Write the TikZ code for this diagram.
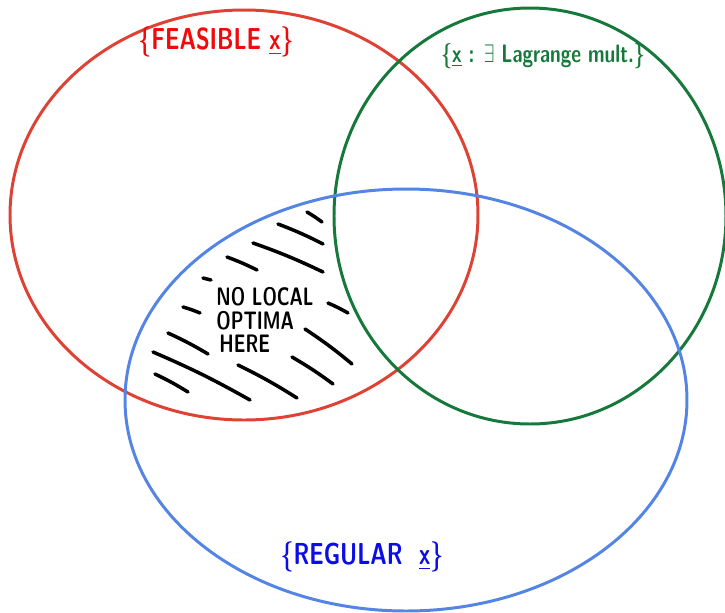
\documentclass[tikz,border=0pt]{standalone}
\usepackage{amsmath, amssymb}
\usepackage{tikz}
\usetikzlibrary{calc}

\definecolor{feasred}{RGB}{222,66,52}
\definecolor{feastext}{RGB}{240,10,10}
\definecolor{lagrgreen}{RGB}{22,120,58}
\definecolor{regblue}{RGB}{84,132,228}
\definecolor{regtext}{RGB}{12,12,230}

\tikzset{
    setline/.style={line width=1.7pt},
    hatchline/.style={line width=2pt, line cap=round, black},
    setlabel/.style={font=\sffamily\bfseries\LARGE, xscale=0.74, transform shape, inner sep=0pt},
}

\begin{document}
\begin{tikzpicture}[x=0.02cm, y=-0.02cm]
    \useasboundingbox (0,0) rectangle (725,613);
    % the three sets
    \draw[setline, feasred] (244,215) ellipse [x radius=234, y radius=205];
    \draw[setline, lagrgreen] (530,216) ellipse [x radius=196, y radius=208];
    \draw[setline, regblue] (406,400) ellipse [x radius=281, y radius=211];
    % labels
    \node[setlabel, text=feastext] (feasible) at (216,42) {\{FEASIBLE \underline{x}\}};
    \node[setlabel, text=lagrgreen, font=\sffamily\bfseries\Large, xscale=1.02] (lagrange) at (543,56) {\{\underline{x} : $\exists$ Lagrange mult.\}};
    \node[setlabel, text=regtext] (regular) at (362,557) {\{REGULAR\ \ \underline{x}\}};
    \node[setlabel, align=left, font=\sffamily\bfseries\fontsize{14.4}{13.6}\selectfont, xscale=0.97] (nolocal) at (265,320) {NO LOCAL\\OPTIMA\\\,HERE};
    % hatching
    \foreach \xa/\ya/\xb/\yb in {307/212/322/222, 278/224/323/244, 253/243/323/272,
        227/257/257/270, 203/278/211/280, 183/307/200/313, 328/303/348/313,
        168/333/208/354, 153/352/250/400, 155/374/188/392, 238/365/297/398,
        292/357/333/384, 305/329/352/364}
        \draw[hatchline] (\xa,\ya) to[bend left=3] (\xb,\yb);
\end{tikzpicture}
\end{document}
